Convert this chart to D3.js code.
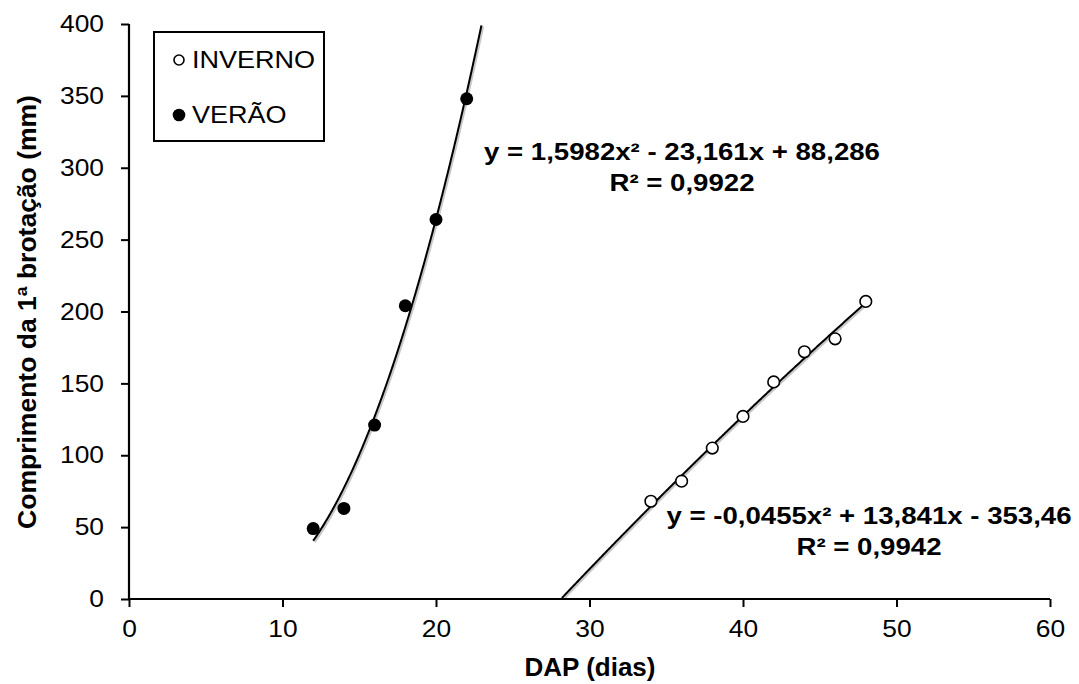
<!DOCTYPE html>
<html>
<head>
<meta charset="utf-8">
<script src="https://cdn.jsdelivr.net/npm/d3@7"></script>
<style>
	body{margin:0;background:#fff;}
	text{font-family:"Liberation Sans",Arial,sans-serif;fill:#000;}
</style>
</head>
<body>
<div id="grafico"></div>
<script>
// dados
var diasVerao=[12,14,16,18,20,22];
var compVerao=[49,63,121,204,264,348];
var diasInverno=[34,36,38,40,42,44,46,48];
var compInverno=[68,82,105,127,151,172,181,207];
// coeficientes das linhas de tendencia (a, b, c)
var coefVerao=[1.5982,-23.161,88.286];
var coefInverno=[-0.0455,13.841,-353.46];
var eqVerao=["y = 1,5982x² - 23,161x + 88,286","R² = 0,9922"];
var eqInverno=["y = -0,0455x² + 13,841x - 353,46","R² = 0,9942"];
var xTicks=[0,10,20,30,40,50,60];
var yTicks=[0,50,100,150,200,250,300,350,400];
var legenda=["INVERNO","VERÃO"];

var W=1079,H=684;
var svg=d3.select("#grafico").append("svg").attr("width",W).attr("height",H);

var x=d3.scaleLinear().domain([0,60]).range([129,1050]);
var y=d3.scaleLinear().domain([0,400]).range([599,24]);

function quad(c,v){return c[0]*v*v+c[1]*v+c[2];}

// o texto do original e um pouco mais largo que a fonte
function alarga(sel,s){
	sel.each(function(){
		var w=this.getComputedTextLength();
		d3.select(this).attr("textLength",w*s).attr("lengthAdjust","spacingAndGlyphs");
	});
}

// linhas de tendencia
function curva(c,x0,x1){
	var pts=[];
	for(var i=0;i<=300;i++){
		var v=x0+(x1-x0)*i/300;
		var r=quad(c,v);
		if(r>=0&&r<=400)pts.push([v,r]);
	}
	return pts;
}
var linha=d3.line().x(function(d){return x(d[0]);}).y(function(d){return y(d[1]);});
var tendencias=[curva(coefVerao,diasVerao[0],24),curva(coefInverno,26,diasInverno[diasInverno.length-1])];
tendencias.forEach(function(p){
	svg.append("path").attr("d",linha(p)).attr("fill","none")
		.attr("stroke","#c8c8c8").attr("stroke-width",2.5).attr("transform","translate(1.5,1.2)");
	svg.append("path").attr("d",linha(p)).attr("fill","none")
		.attr("stroke","#000").attr("stroke-width",2);
});

// eixos
var eixoX=svg.append("g").attr("transform","translate(0,"+y(0)+")")
	.call(d3.axisBottom(x).tickValues(xTicks).tickSize(8).tickPadding(13));
var eixoY=svg.append("g").attr("transform","translate("+x(0)+",0)")
	.call(d3.axisLeft(y).tickValues(yTicks).tickSize(8).tickPadding(17));
[eixoX,eixoY].forEach(function(g){
	g.select(".domain").attr("stroke","#000").attr("stroke-width",2.2);
	g.selectAll(".tick line").attr("stroke","#000").attr("stroke-width",2);
	g.selectAll(".tick text").attr("font-size",24).attr("font-family","Liberation Sans, Arial, sans-serif").attr("fill","#000");
	alarga(g.selectAll(".tick text"),1.1);
});
eixoY.select(".domain").attr("d","M0,"+y(0)+"V"+y(400));
eixoX.select(".domain").attr("d","M"+x(0)+",0H"+x(60));

// pontos
svg.selectAll("circle.verao").data(diasVerao).enter().append("circle")
	.attr("class","verao")
	.attr("cx",function(d){return x(d);})
	.attr("cy",function(d,i){return y(compVerao[i]);})
	.attr("r",6.5).attr("fill","#000");
svg.selectAll("circle.inverno").data(diasInverno).enter().append("circle")
	.attr("class","inverno")
	.attr("cx",function(d){return x(d);})
	.attr("cy",function(d,i){return y(compInverno[i]);})
	.attr("r",5.8).attr("fill","#fff").attr("stroke","#000").attr("stroke-width",1.6);

// equacoes
function equacao(linhas,cx,cy){
	linhas.forEach(function(l,i){
		var t=svg.append("text").attr("text-anchor","middle").attr("font-size",24).attr("font-weight","bold")
			.attr("x",cx).attr("y",cy+i*31).text(l);
		alarga(t,1.15);
	});
}
equacao(eqVerao,682,160);
equacao(eqInverno,869,524);

// titulos
var tx=svg.append("text").attr("x",590).attr("y",676).attr("text-anchor","middle")
	.attr("font-size",25).attr("font-weight","bold").text("DAP (dias)");
alarga(tx,1.04);
var ty=svg.append("text").attr("transform","translate(36,312) rotate(-90)").attr("text-anchor","middle")
	.attr("font-size",25).attr("font-weight","bold").text("Comprimento da 1ª brotação (mm)");
alarga(ty,1.06);

// legenda
var leg=svg.append("g");
leg.append("rect").attr("x",154).attr("y",32).attr("width",170).attr("height",109)
	.attr("fill","#fff").attr("stroke","#000").attr("stroke-width",2);
legenda.forEach(function(nome,i){
	var cy=60+i*55;
	leg.append("circle").attr("cx",179).attr("cy",cy).attr("r",i==0?5:6.3)
		.attr("fill",i==0?"#fff":"#000").attr("stroke","#000").attr("stroke-width",i==0?1.6:0);
	var t=leg.append("text").attr("x",192).attr("y",cy+8).attr("font-size",23.5).text(nome);
	alarga(t,1.15);
});
</script>
</body>
</html>
